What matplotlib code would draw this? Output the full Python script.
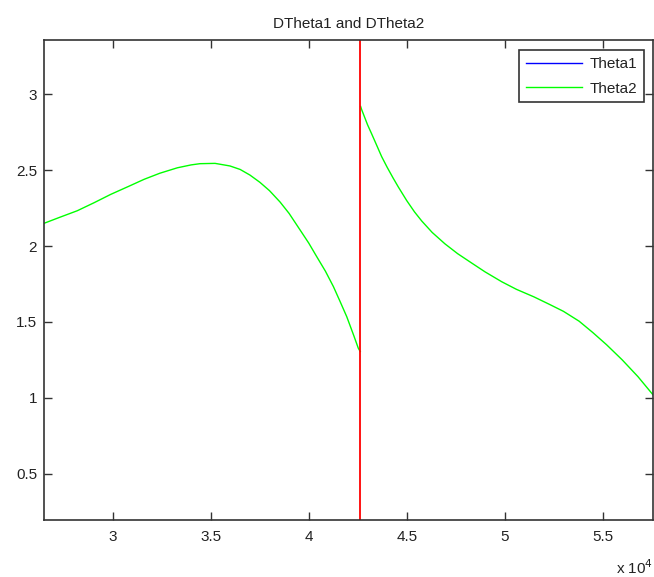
import numpy as np
import matplotlib
matplotlib.use("Agg")
import matplotlib.pyplot as plt
from matplotlib.ticker import FuncFormatter

# values (x in raw units, later shown as x 10^4)
theta2_left_x = [26490, 27300, 28190, 29050, 29900, 30800, 31600, 32400, 33300,
                 34000, 34450, 35220, 35980, 36500, 37000, 37510, 38000, 38540,
                 39000, 39560, 40000, 40410, 40850, 41260, 41600, 41940, 42300,
                 42530, 42630]
theta2_left_y = [2.150, 2.190, 2.233, 2.286, 2.341, 2.393, 2.440, 2.480, 2.516,
                 2.535, 2.543, 2.545, 2.528, 2.505, 2.468, 2.420, 2.365, 2.290,
                 2.215, 2.106, 2.020, 1.930, 1.835, 1.733, 1.635, 1.535, 1.410,
                 1.327, 1.305]
theta2_right_x = [42650, 42700, 43000, 43210, 43500, 43720, 44000, 44300, 44570,
                  45000, 45400, 45770, 46300, 46950, 47600, 48320, 49000, 49850,
                  50600, 51500, 52300, 53000, 53800, 54500, 55200, 56000, 56800,
                  57570]
theta2_right_y = [2.920, 2.900, 2.800, 2.740, 2.655, 2.590, 2.520, 2.450, 2.390,
                  2.300, 2.225, 2.165, 2.090, 2.015, 1.950, 1.888, 1.830, 1.765,
                  1.715, 1.665, 1.615, 1.570, 1.505, 1.430, 1.350, 1.250, 1.140,
                  1.020]
split_x = 42630

plt.rcParams['font.family'] = ['Liberation Sans', 'DejaVu Sans']

fig = plt.figure(figsize=(6.54, 5.77), dpi=100)
ax = fig.add_axes([44 / 654, 57 / 577, 609 / 654, 480 / 577])

x_all = theta2_left_x + [np.nan] + theta2_right_x
y_all = theta2_left_y + [np.nan] + theta2_right_y

ax.plot([], [], color='#0000ff', lw=1.0, label='Theta1')
ax.plot(x_all, y_all, color='#00ff00', lw=1.0, label='Theta2')
ax.axvline(split_x, color='#ff0000', lw=1.3)

ax.set_xlim(26490, 57570)
ax.set_ylim(0.195, 3.358)
ax.set_xticks([30000, 35000, 40000, 45000, 50000, 55000])
ax.set_yticks([0.5, 1, 1.5, 2, 2.5, 3])
ax.xaxis.set_major_formatter(FuncFormatter(lambda v, p: ('%g' % (v / 1e4))))
ax.yaxis.set_major_formatter(FuncFormatter(lambda v, p: ('%g' % v)))

ax.tick_params(direction='in', length=6, width=1, color='#333333',
               top=True, right=True, labelsize=11, labelcolor='#222222')
ax.tick_params(axis='x', pad=7)
ax.tick_params(axis='y', pad=5)
for s in ax.spines.values():
    s.set_color('#333333')
    s.set_linewidth(1.2)

ax.set_title('DTheta1 and DTheta2', fontsize=11, color='#222222', pad=9)

fig.text(653 / 654, 1 - 568 / 577, r'x 10$^4$', ha='right', va='center',
         fontsize=11, color='#222222')

leg = ax.legend(loc='upper right', bbox_to_anchor=(643.7 / 654, 1 - 50 / 577),
                bbox_transform=fig.transFigure, borderaxespad=0,
                fontsize=11, handlelength=3.7, handletextpad=0.45,
                labelspacing=0.7, borderpad=0.45, fancybox=False, framealpha=1)
leg.get_frame().set_edgecolor('#333333')
leg.get_frame().set_linewidth(1.2)
for t in leg.get_texts():
    t.set_color('#222222')

fig.savefig('out.png', dpi=100)
